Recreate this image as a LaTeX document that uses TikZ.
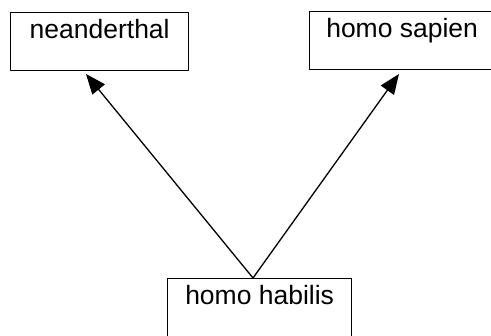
\documentclass[tikz,border=0pt]{standalone}
\usepackage{fontspec}
\setmainfont{Liberation Sans}
\usetikzlibrary{arrows.meta}
\begin{document}
\begin{tikzpicture}[x=1pt,y=1pt,line width=1.3pt,line join=round,>={Triangle[length=20pt,width=16pt]},
 font=\fontsize{26.5}{30}\selectfont,
 species/.style={draw,rectangle,anchor=north west,inner ysep=6pt,text height=20pt,text depth=26pt}]
 \clip (0,0) rectangle (491,336);
 \node[species,minimum width=178pt] (nean) at (10,324) {neanderthal};
 \node[species,minimum width=185pt] (sapien) at (309,325) {homo sapien};
 \node[species,minimum width=184pt,text depth=30pt] (habilis) at (167,58) {homo habilis};
 \coordinate (fork) at (253,58);
 \coordinate (neantip) at (86,262);
 \coordinate (sapientip) at (399,262);
 \draw[->] (fork)--(neantip);
 \draw[->] (fork)--(sapientip);
\end{tikzpicture}
\end{document}
